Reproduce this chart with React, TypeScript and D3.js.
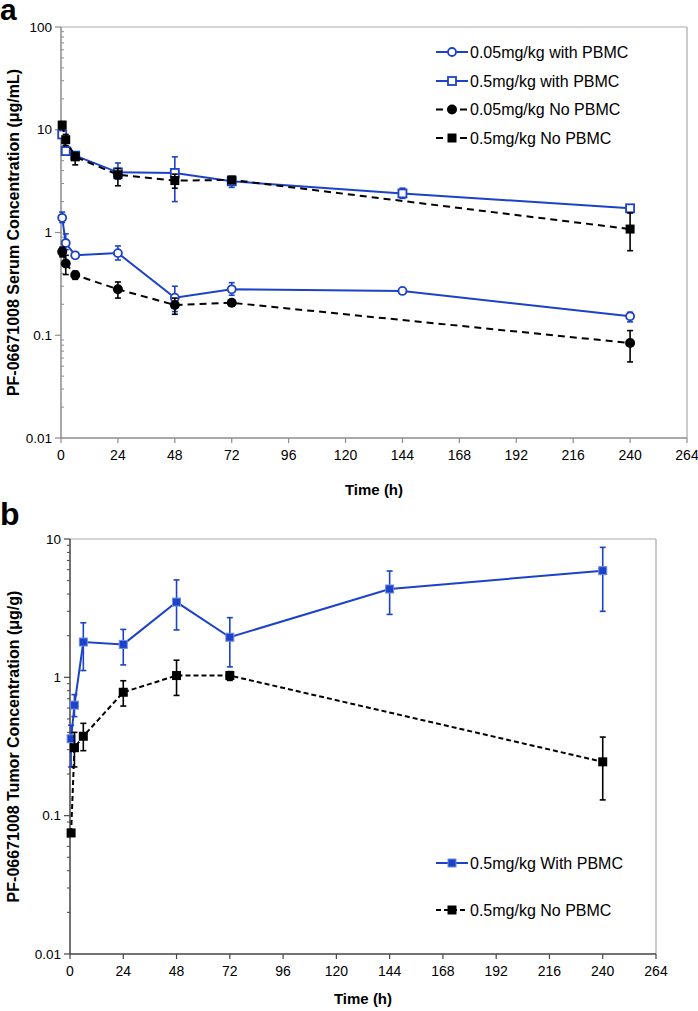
import React, { useEffect } from "react";
import * as d3 from "d3";

// ---------- Panel a data ----------
const timesA = [0.5, 2, 6, 24, 48, 72, 144, 240];
const timesANo = [0.5, 2, 6, 24, 48, 72, 240];
const xTicks = [0, 24, 48, 72, 96, 120, 144, 168, 192, 216, 240, 264];
const yTicksA = [0.01, 0.1, 1, 10, 100];
const yTickLabelsA = ["0.01", "0.1", "1", "10", "100"];

const lowWithVal = [1.39, 0.79, 0.6, 0.63, 0.232, 0.28, 0.27, 0.153];
const lowWithLo = [1.25, 0.68, 0.56, 0.54, 0.17, 0.245, 0.26, 0.135];
const lowWithHi = [1.58, 0.97, 0.64, 0.74, 0.3, 0.325, 0.28, 0.167];

const highWithVal = [9.0, 6.2, 5.6, 3.85, 3.8, 3.15, 2.4, 1.72];
const highWithLo = [8.6, 5.9, 5.2, 3.3, 2.0, 2.75, 2.15, 1.65];
const highWithHi = [9.4, 6.5, 6.0, 4.75, 5.45, 3.5, 2.7, 1.8];

const lowNoVal = [0.65, 0.5, 0.386, 0.28, 0.197, 0.207, 0.084];
const lowNoLo = [0.58, 0.39, 0.35, 0.23, 0.16, 0.195, 0.055];
const lowNoHi = [0.72, 0.6, 0.42, 0.33, 0.23, 0.22, 0.111];

const highNoVal = [11.1, 8.0, 5.45, 3.65, 3.2, 3.25, 1.08];
const highNoLo = [10.2, 7.0, 4.55, 2.85, 2.7, 3.0, 0.665];
const highNoHi = [12.0, 9.0, 6.0, 4.2, 3.7, 3.5, 1.55];

const legendA = [
  "0.05mg/kg with PBMC",
  "0.5mg/kg with PBMC",
  "0.05mg/kg No PBMC",
  "0.5mg/kg No PBMC",
];

// ---------- Panel b data ----------
const timesB = [0.5, 2, 6, 24, 48, 72, 144, 240];
const timesBNo = [0.5, 2, 6, 24, 48, 72, 240];
const yTicksB = [0.01, 0.1, 1, 10];
const yTickLabelsB = ["0.01", "0.1", "1", "10"];

const tumorWithVal = [0.36, 0.63, 1.8, 1.73, 3.5, 1.95, 4.35, 5.9];
const tumorWithLo = [0.225, 0.52, 1.12, 1.23, 2.2, 1.19, 2.85, 3.0];
const tumorWithHi = [0.45, 0.75, 2.48, 2.22, 5.06, 2.7, 5.87, 8.7];

const tumorNoVal = [0.075, 0.31, 0.375, 0.78, 1.03, 1.03, 0.245];
const tumorNoLo = [0.075, 0.225, 0.295, 0.62, 0.74, 0.95, 0.13];
const tumorNoHi = [0.075, 0.4, 0.465, 0.945, 1.33, 1.1, 0.37];

const legendB = ["0.5mg/kg With PBMC", "0.5mg/kg No PBMC"];

const BLUE = "#1c42c8";
const FONT = "'Liberation Sans', Arial, Helvetica, sans-serif";

type Marker = "openCircle" | "openSquare" | "circle" | "square" | "blueSquare";

function MarkerShape({ kind, x, y }: { kind: Marker; x: number; y: number }) {
  switch (kind) {
    case "openCircle":
      return <circle cx={x} cy={y} r={4} fill="#fff" stroke={BLUE} strokeWidth={1.8} />;
    case "openSquare":
      return <rect x={x - 4} y={y - 4} width={8} height={8} fill="#fff" stroke={BLUE} strokeWidth={1.8} />;
    case "circle":
      return <circle cx={x} cy={y} r={5} fill="#000" />;
    case "square":
      return <rect x={x - 4.5} y={y - 4.5} width={9} height={9} fill="#000" />;
    case "blueSquare":
      return <rect x={x - 4} y={y - 4} width={8} height={8} fill={BLUE} stroke="#6d8ce6" strokeWidth={1} />;
  }
}

function Series({
  times, vals, lo, hi, xs, ys, color, dash, marker, width = 2,
}: {
  times: number[]; vals: number[]; lo: number[]; hi: number[];
  xs: d3.ScaleLinear<number, number>; ys: d3.ScaleLogarithmic<number, number>;
  color: string; dash?: string; marker: Marker; width?: number;
}) {
  const pts = times.map((t, i) => [t, vals[i]] as [number, number]);
  const line = d3.line<[number, number]>().x((d) => xs(d[0])).y((d) => ys(d[1]));
  return (
    <g>
      <path d={line(pts) || ""} fill="none" stroke={color} strokeWidth={width} strokeDasharray={dash} />
      {times.map((t, i) => {
        const x = xs(t);
        const y1 = ys(hi[i]);
        const y2 = ys(lo[i]);
        return (
          <g key={"e" + i} stroke={color} strokeWidth={1.6}>
            <line x1={x} x2={x} y1={y1} y2={y2} />
            <line x1={x - 3} x2={x + 3} y1={y1} y2={y1} />
            <line x1={x - 3} x2={x + 3} y1={y2} y2={y2} />
          </g>
        );
      })}
      {times.map((t, i) => (
        <MarkerShape key={"m" + i} kind={marker} x={xs(t)} y={ys(vals[i])} />
      ))}
    </g>
  );
}

function Axes({
  xs, ys, yTicks, yLabels, axisColor, minorInside, title, xTitleY,
}: {
  xs: d3.ScaleLinear<number, number>; ys: d3.ScaleLogarithmic<number, number>;
  yTicks: number[]; yLabels: string[]; axisColor: string; minorInside: boolean;
  title: string; xTitleY: number;
}) {
  const [x0, x1] = xs.range();
  const [yb, yt] = ys.range();
  const minor: number[] = [];
  for (let e = 0; e < yTicks.length - 1; e++) {
    for (let m = 2; m <= 9; m++) minor.push(yTicks[e] * m);
  }
  return (
    <g fontFamily={FONT}>
      <line x1={x0} x2={x1} y1={yt} y2={yt} stroke="#aaa" strokeWidth={1.2} />
      <line x1={x1} x2={x1} y1={yt} y2={yb} stroke="#aaa" strokeWidth={1.2} />
      <line x1={x0} x2={x0} y1={yt} y2={yb} stroke={axisColor} strokeWidth={1.5} />
      <line x1={x0} x2={x1} y1={yb} y2={yb} stroke={axisColor} strokeWidth={1.5} />
      {minor.map((v, i) => (
        <line key={"mn" + i} x1={x0} x2={minorInside ? x0 + 3 : x0 - 3} y1={ys(v)} y2={ys(v)} stroke={axisColor} strokeWidth={1} />
      ))}
      {yTicks.map((v, i) => (
        <g key={"yt" + i}>
          <line x1={x0 - 6} x2={x0} y1={ys(v)} y2={ys(v)} stroke={axisColor} strokeWidth={1.2} />
          <text x={x0 - 9} y={ys(v)} dy="0.35em" textAnchor="end" fontSize={13.5} fill="#000">{yLabels[i]}</text>
        </g>
      ))}
      {xTicks.map((v, i) => (
        <g key={"xt" + i}>
          <line x1={xs(v)} x2={xs(v)} y1={yb} y2={yb + 5} stroke={axisColor} strokeWidth={1.2} />
          <text x={xs(v)} y={yb + 22} textAnchor="middle" fontSize={14} fill="#000">{v}</text>
        </g>
      ))}
      <text x={(x0 + x1) / 2} y={xTitleY} textAnchor="middle" fontSize={15} fontWeight="bold">Time (h)</text>
      <text transform={`translate(19,${(yt + yb) / 2}) rotate(-90)`} textAnchor="middle" fontSize={16} fontWeight="bold">{title}</text>
    </g>
  );
}

export default function App() {
  useEffect(() => {
    document.body.style.margin = "0";
  }, []);

  const xA = d3.scaleLinear().domain([0, 264]).range([61, 687]);
  const yA = d3.scaleLog().domain([0.01, 100]).range([438, 27]);
  const xB = d3.scaleLinear().domain([0, 264]).range([70, 656]);
  const yB = d3.scaleLog().domain([0.01, 10]).range([954, 539]);

  const legARows = [52, 81, 109.5, 138];
  const legAMarkers: Marker[] = ["openCircle", "openSquare", "circle", "square"];
  const legAColors = [BLUE, BLUE, "#000", "#000"];
  const legADash = [undefined, undefined, "7,5", "7,5"];

  const legBRows = [863, 910];
  const legBMarkers: Marker[] = ["blueSquare", "square"];
  const legBColors = [BLUE, "#000"];
  const legBDash = [undefined, "5,3"];

  return (
    <svg width={698} height={1011} style={{ display: "block", background: "#fff" }} fontFamily={FONT}>
      <rect width={698} height={1011} fill="#fff" />
      {/* Panel a */}
      <text x={0} y={20} fontSize={30} fontWeight="bold">a</text>
      <Axes xs={xA} ys={yA} yTicks={yTicksA} yLabels={yTickLabelsA} axisColor="#8c8c8c" minorInside={true}
        title="PF-06671008 Serum Concentration (μg/mL)" xTitleY={495} />
      <Series times={timesA} vals={lowWithVal} lo={lowWithLo} hi={lowWithHi} xs={xA} ys={yA} color={BLUE} marker="openCircle" />
      <Series times={timesA} vals={highWithVal} lo={highWithLo} hi={highWithHi} xs={xA} ys={yA} color={BLUE} marker="openSquare" />
      <Series times={timesANo} vals={lowNoVal} lo={lowNoLo} hi={lowNoHi} xs={xA} ys={yA} color="#000" dash="7,5" marker="circle" />
      <Series times={timesANo} vals={highNoVal} lo={highNoLo} hi={highNoHi} xs={xA} ys={yA} color="#000" dash="7,5" marker="square" />
      {legendA.map((s, i) => (
        <g key={"la" + i}>
          <line x1={436} x2={468} y1={legARows[i]} y2={legARows[i]} stroke={legAColors[i]} strokeWidth={2} strokeDasharray={legADash[i]} />
          <MarkerShape kind={legAMarkers[i]} x={452} y={legARows[i]} />
          <text x={470} y={legARows[i]} dy="0.35em" fontSize={16}>{s}</text>
        </g>
      ))}

      {/* Panel b */}
      <text x={0} y={525} fontSize={32} fontWeight="bold">b</text>
      <Axes xs={xB} ys={yB} yTicks={yTicksB} yLabels={yTickLabelsB} axisColor="#444" minorInside={false}
        title="PF-06671008 Tumor Concentration (μg/g)" xTitleY={1004} />
      <Series times={timesB} vals={tumorWithVal} lo={tumorWithLo} hi={tumorWithHi} xs={xB} ys={yB} color={BLUE} marker="blueSquare" />
      <Series times={timesBNo} vals={tumorNoVal} lo={tumorNoLo} hi={tumorNoHi} xs={xB} ys={yB} color="#000" dash="5,3" marker="square" />
      {legendB.map((s, i) => (
        <g key={"lb" + i}>
          <line x1={436} x2={468} y1={legBRows[i]} y2={legBRows[i]} stroke={legBColors[i]} strokeWidth={2} strokeDasharray={legBDash[i]} />
          <MarkerShape kind={legBMarkers[i]} x={452} y={legBRows[i]} />
          <text x={470} y={legBRows[i]} dy="0.35em" fontSize={16}>{s}</text>
        </g>
      ))}
    </svg>
  );
}
